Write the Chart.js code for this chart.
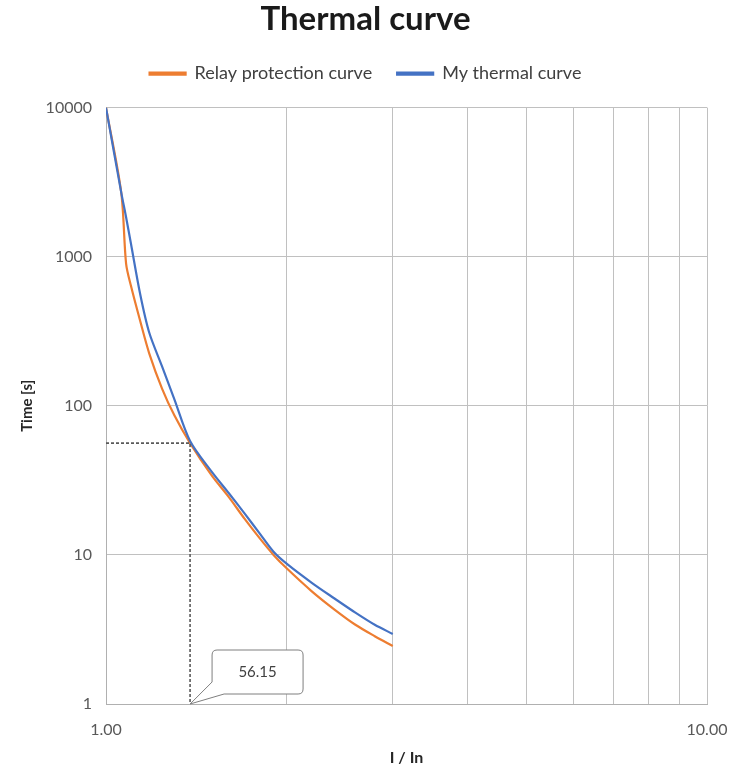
<!DOCTYPE html>
<html>
<head>
<meta charset="utf-8">
<script src="https://cdn.jsdelivr.net/npm/chart.js@4"></script>
<style>
  html, body { margin: 0; padding: 0; background: #fff; }
  #wrap { width: 731px; height: 771px; }
</style>
</head>
<body>
<div id="wrap"><canvas id="thermalChart" width="731" height="771"></canvas></div>
<script>
// I / In points shared by both curves
const currentRatio = [1.0, 1.06, 1.08, 1.1, 1.14, 1.18, 1.24, 1.3, 1.38, 1.5, 1.6, 1.7, 1.8, 1.9, 2.0, 2.2, 2.4, 2.6, 2.8, 3.0];
// trip times in seconds
const relayTimes = [10000, 2700, 900, 640, 370, 225, 130, 86, 56.15, 34, 24.5, 17.5, 13, 10, 8.1, 5.7, 4.3, 3.4, 2.85, 2.45];
const thermalTimes = [10000, 2700, 1840, 1230, 560, 310, 183, 110, 58, 36, 26, 19, 14, 10.5, 8.7, 6.5, 5.1, 4.1, 3.4, 2.95];
// marked operating point
const markCurrent = 1.38;
const markTime = 56.15;
// axis ticks
const xTicks = [1, 2, 3, 4, 5, 6, 7, 8, 9, 10];
const xLabelled = [1, 10];
const yTicks = [1, 10, 100, 1000, 10000];

const FONT = "Lato, 'Open Sans', sans-serif";

const toPoints = (xs, ys) => xs.map((x, i) => ({ x, y: ys[i] }));

// extra room between the legend and the plot
const legendGap = {
  id: "legendGap",
  beforeInit(chart) {
    const fit = chart.legend.fit;
    chart.legend.fit = function () {
      fit.call(this);
      this.height = 68;
    };
  }
};

// speech-bubble label pointing at the marked current on the time axis floor
const calloutPlugin = {
  id: "callout",
  afterDatasetsDraw(chart) {
    const { ctx, scales } = chart;
    const ax = scales.x.getPixelForValue(markCurrent);
    const ay = scales.y.getPixelForValue(1);
    const left = ax + 22, top = ay - 54, w = 91, h = 44, r = 5;
    const right = left + w, bottom = top + h;
    ctx.save();
    ctx.beginPath();
    ctx.moveTo(left + r, top);
    ctx.lineTo(right - r, top);
    ctx.quadraticCurveTo(right, top, right, top + r);
    ctx.lineTo(right, bottom - r);
    ctx.quadraticCurveTo(right, bottom, right - r, bottom);
    ctx.lineTo(left + 12, bottom);
    ctx.lineTo(ax, ay);
    ctx.lineTo(left, bottom - 12);
    ctx.lineTo(left, top + r);
    ctx.quadraticCurveTo(left, top, left + r, top);
    ctx.closePath();
    ctx.fillStyle = "#ffffff";
    ctx.fill();
    ctx.strokeStyle = "#7f7f7f";
    ctx.lineWidth = 1;
    ctx.stroke();
    ctx.fillStyle = "#404040";
    ctx.font = "15px " + FONT;
    ctx.textAlign = "center";
    ctx.textBaseline = "middle";
    ctx.fillText(markTime.toFixed(2), left + w / 2, top + h / 2);
    ctx.restore();
  }
};

const ctx = document.getElementById("thermalChart").getContext("2d");
new Chart(ctx, {
  type: "scatter",
  data: {
    datasets: [
      {
        label: "Relay protection curve",
        data: toPoints(currentRatio, relayTimes),
        showLine: true,
        borderColor: "#ED7D31",
        backgroundColor: "#ED7D31",
        borderWidth: 2.2,
        pointRadius: 0,
        tension: 0.3,
        order: 2
      },
      {
        label: "My thermal curve",
        data: toPoints(currentRatio, thermalTimes),
        showLine: true,
        borderColor: "#4472C4",
        backgroundColor: "#4472C4",
        borderWidth: 2.2,
        pointRadius: 0,
        tension: 0.3,
        order: 1
      },
      {
        label: "guide",
        data: [{ x: 1, y: markTime }, { x: markCurrent, y: markTime }, { x: markCurrent, y: 1 }],
        showLine: true,
        borderColor: "#595959",
        borderWidth: 1.6,
        borderDash: [3, 2],
        pointRadius: 0,
        order: 0
      }
    ]
  },
  options: {
    responsive: false,
    animation: false,
    layout: { padding: { left: 0, right: 0, top: 0, bottom: 0 } },
    plugins: {
      title: {
        display: true,
        text: "Thermal curve",
        color: "#1a1a1a",
        font: { family: FONT, size: 33, weight: "bold" },
        padding: { top: 0, bottom: 0 }
      },
      legend: {
        position: "top",
        labels: {
          color: "#404040",
          font: { family: FONT, size: 18 },
          boxWidth: 36,
          boxHeight: 2,
          padding: 25,
          filter: item => item.datasetIndex < 2,
          sort: (a, b) => a.datasetIndex - b.datasetIndex
        }
      },
      tooltip: { enabled: false }
    },
    scales: {
      x: {
        type: "logarithmic",
        min: 1,
        max: 10,
        afterBuildTicks: scale => { scale.ticks = xTicks.map(v => ({ value: v })); },
        afterFit: scale => { scale.height = 67; scale.paddingRight = 24; },
        ticks: {
          autoSkip: false,
          maxRotation: 0,
          padding: 16,
          color: "#595959",
          font: { family: FONT, size: 16 },
          callback: v => (xLabelled.includes(v) ? v.toFixed(2) : "")
        },
        grid: { color: "#c0c0c0", lineWidth: 1, drawTicks: false },
        border: { color: "#b0b0b0" },
        title: {
          display: true,
          text: "I / In",
          color: "#262626",
          font: { family: FONT, size: 16, weight: "bold" },
          padding: { top: 4 }
        }
      },
      y: {
        type: "logarithmic",
        min: 1,
        max: 10000,
        afterBuildTicks: scale => { scale.ticks = yTicks.map(v => ({ value: v })); },
        afterFit: scale => { scale.width = 106; },
        ticks: {
          padding: 14,
          color: "#595959",
          font: { family: FONT, size: 16 },
          callback: v => String(v)
        },
        grid: { color: "#c0c0c0", lineWidth: 1, drawTicks: false },
        border: { color: "#b0b0b0" },
        title: {
          display: true,
          text: "Time [s]",
          color: "#262626",
          font: { family: FONT, size: 15, weight: "bold" },
          padding: { top: 18, bottom: 4 }
        }
      }
    }
  },
  plugins: [legendGap, calloutPlugin]
});
</script>
</body>
</html>
